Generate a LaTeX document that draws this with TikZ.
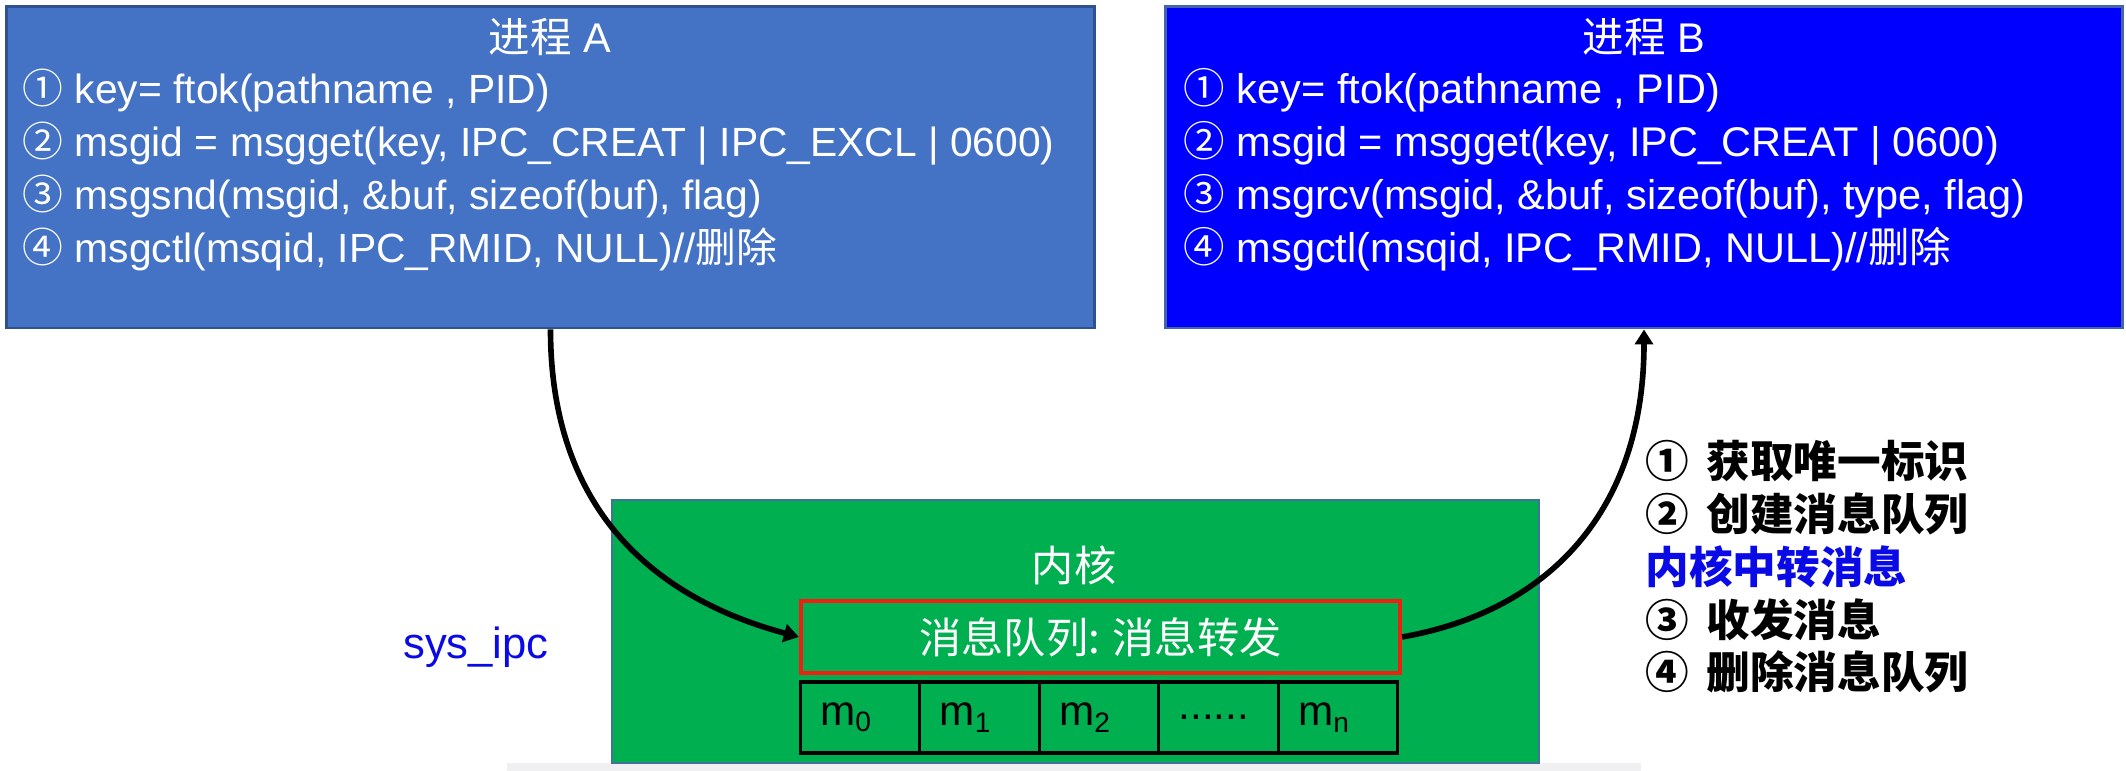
\documentclass[tikz,border=0pt]{standalone}
\usepackage{fontspec}
\setmainfont{Liberation Sans}
\newfontfamily\cjk{Noto Sans CJK SC}
\newcommand{\zh}[1]{{\cjk #1}}
\usepackage{tikz}
\usetikzlibrary{arrows.meta,positioning}
\definecolor{procablue}{HTML}{4472C4}
\definecolor{procaline}{HTML}{2F528F}
\definecolor{procbblue}{HTML}{0000FF}
\definecolor{procbline}{HTML}{4466A8}
\definecolor{kerngreen}{HTML}{00B050}
\definecolor{kernline}{HTML}{41719C}
\definecolor{queuered}{HTML}{F02010}
\definecolor{ipcblue}{HTML}{0A0AE6}
\definecolor{stripgray}{HTML}{F0F0F2}

\begin{document}
\begin{tikzpicture}[
x=0.01cm,y=-0.01cm,
procbox/.style={draw,line width=0.8pt,inner sep=0pt,
minimum height=3.21cm},
ptitle/.style={text=white,inner sep=0pt,font=\fontsize{11.8}{15}\selectfont},
code/.style={text=white,align=left,anchor=west,inner sep=0pt,
font=\fontsize{11.8}{15.1}\selectfont},
kernbox/.style={draw=kernline,fill=kerngreen,line width=0.6pt,
minimum width=9.27cm,minimum height=2.63cm},
queue/.style={draw=queuered,fill=kerngreen,line width=1.1pt,text=white,
minimum width=5.99cm,minimum height=0.72cm,font=\fontsize{12}{14}\cjk},
cell/.style={draw=black,fill=kerngreen,line width=0.9pt,text=black,
minimum width=1.194cm,minimum height=0.71cm,inner xsep=0.2cm,outer sep=0pt,
text width=0.794cm,align=left,font=\fontsize{12}{14}\selectfont},
arr/.style={-{Triangle[length=1.5mm,width=1.8mm]},line width=1.6pt}
]
\useasboundingbox (0,0) rectangle (2126,771);

% processes
\node[procbox,fill=procablue,draw=procaline,minimum width=10.87cm] (procA) at (550.5,167.5) {};
\node[ptitle] (titleA) at (550,37) {\zh{进程} A};
\node[code,font=\fontsize{11.6}{15.1}\selectfont] (codeA) at (22,170) {\zh{①} key= ftok(pathname , PID)\\
\zh{②} msgid = msgget(key, IPC\_CREAT | IPC\_EXCL | 0600)\\
\zh{③} msgsnd(msgid, \&buf, sizeof(buf), flag)\\
\zh{④} msgctl(msqid, IPC\_RMID, NULL)//\zh{删除}};

\node[procbox,fill=procbblue,draw=procbline,minimum width=9.56cm] (procB) at (1644,167.5) {};
\node[ptitle] (titleB) at (1644,37) {\zh{进程} B};
\node[code] (codeB) at (1183,170) {\zh{①} key= ftok(pathname , PID)\\
\zh{②} msgid = msgget(key, IPC\_CREAT | 0600)\\
\zh{③} msgrcv(msgid, \&buf, sizeof(buf), type, flag)\\
\zh{④} msgctl(msqid, IPC\_RMID, NULL)//\zh{删除}};

% kernel
\fill[stripgray] (507,763) rectangle (1641,771);
\node[kernbox] (kernel) at (1075.5,631.5) {};
\node[text=white,font=\fontsize{12}{14}\cjk] (kernlabel) at (1074,565) {内核};
\node[queue] (mq) at (1100.5,637) {消息队列: 消息转发};

\node[cell] (m0) at (860,717.5) {m\textsubscript{0}};
\node[cell,right=0pt of m0] (m1) {m\textsubscript{1}};
\node[cell,right=0pt of m1] (m2) {m\textsubscript{2}};
\node[cell,right=0pt of m2] (mdots) {......};
\node[cell,right=0pt of mdots] (mn) {m\textsubscript{n}};

\node[text=ipcblue,font=\fontsize{12.4}{15}\selectfont] (sysipc) at (476,647) {sys\_ipc};

\node[align=left,anchor=west,inner sep=0pt,
font=\fontsize{12.4}{15}\cjk\bfseries] (steps) at (1645,567)
{①\hspace{0.4em}获取唯一标识\\
②\hspace{0.4em}创建消息队列\\
{\color{ipcblue}内核中转消息}\\
③\hspace{0.4em}收发消息\\
④\hspace{0.4em}删除消息队列};

\draw[arr] (procA.south) .. controls +(0,180) and +(-145,-39) .. (mq.west);
\draw[arr] (mq.east) .. controls +(148,-26) and +(0,180) .. (procB.south);
\end{tikzpicture}
\end{document}
